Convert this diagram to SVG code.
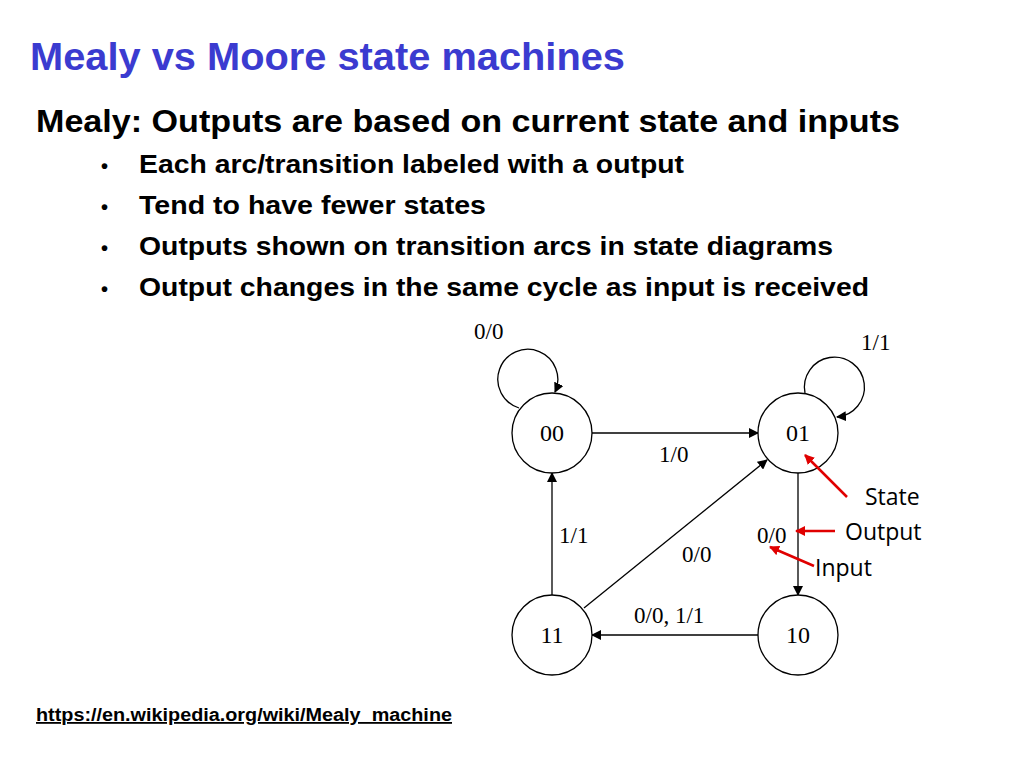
<svg xmlns="http://www.w3.org/2000/svg" width="1024" height="768" viewBox="0 0 1024 768">
<style>
.st{fill:#fff;stroke:#000;stroke-width:1.3}
.sl{font-family:"Liberation Serif",serif;font-size:24px;fill:#000;text-anchor:middle}
.el{font-family:"Liberation Serif",serif;font-size:23px;fill:#000}
.c{fill:none;stroke:#000;stroke-width:1.3}
.r{fill:none;stroke:#e00000;stroke-width:2.5}
.b{font-family:"Liberation Sans",Arial,sans-serif;font-weight:bold;fill:#000}
.an{font-family:"Open Sans","Liberation Sans",sans-serif;font-size:23px;fill:#000}
</style>
<defs>
<marker id="a" markerWidth="10" markerHeight="10" refX="9" refY="5" orient="auto" markerUnits="userSpaceOnUse"><path d="M0,0 L10,5 L0,10 z" fill="#000"/></marker>
<marker id="ra" markerWidth="10" markerHeight="10" refX="9" refY="5" orient="auto" markerUnits="userSpaceOnUse"><path d="M0,0 L10,5 L0,10 z" fill="#e00000"/></marker>
</defs>
<rect width="1024" height="768" fill="#fff"/>
<text x="30" y="70" font-family="Liberation Sans,Arial,sans-serif" font-weight="bold" font-size="38" fill="#3b3bd0" textLength="595" lengthAdjust="spacingAndGlyphs">Mealy vs Moore state machines</text>
<text class="b" x="36" y="132" font-size="32" textLength="864" lengthAdjust="spacingAndGlyphs">Mealy: Outputs are based on current state and inputs</text>
<g class="b" font-size="26">
<text x="101" y="173" font-size="20">•</text><text x="139" y="173" textLength="545" lengthAdjust="spacingAndGlyphs">Each arc/transition labeled with a output</text>
<text x="101" y="214" font-size="20">•</text><text x="139" y="214" textLength="347" lengthAdjust="spacingAndGlyphs">Tend to have fewer states</text>
<text x="101" y="255" font-size="20">•</text><text x="139" y="255" textLength="694" lengthAdjust="spacingAndGlyphs">Outputs shown on transition arcs in state diagrams</text>
<text x="101" y="296" font-size="20">•</text><text x="139" y="296" textLength="730" lengthAdjust="spacingAndGlyphs">Output changes in the same cycle as input is received</text>
</g>
<g id="connectors">
<path class="c" d="M519,408 A30,30 0 1 1 555,392" marker-end="url(#a)"/>
<path class="c" d="M805,393 A30,30 0 1 1 837,417" marker-end="url(#a)"/>
<line class="c" x1="592" y1="433" x2="758" y2="433" marker-end="url(#a)"/>
<line class="c" x1="798" y1="473" x2="798" y2="595" marker-end="url(#a)"/>
<line class="c" x1="758" y1="635" x2="592" y2="635" marker-end="url(#a)"/>
<line class="c" x1="552" y1="595" x2="552" y2="473" marker-end="url(#a)"/>
<line class="c" x1="584" y1="608" x2="767" y2="460" marker-end="url(#a)"/>
<text class="el" x="474" y="339">0/0</text>
<text class="el" x="861" y="350">1/1</text>
<text class="el" x="659" y="462">1/0</text>
<text class="el" x="559" y="543">1/1</text>
<text class="el" x="682" y="562">0/0</text>
<text class="el" x="757" y="543">0/0</text>
<text class="el" x="634" y="623">0/0, 1/1</text>
</g>
<g id="s00"><circle class="st" cx="552" cy="433" r="40"/><text class="sl" x="552" y="441">00</text></g>
<g id="s01"><circle class="st" cx="798" cy="433" r="40"/><text class="sl" x="798" y="441">01</text></g>
<g id="s11"><circle class="st" cx="552" cy="635" r="40"/><text class="sl" x="552" y="643">11</text></g>
<g id="s10"><circle class="st" cx="798" cy="635" r="40"/><text class="sl" x="798" y="643">10</text></g>
<g id="annotations">
<line class="r" x1="847" y1="497" x2="805" y2="455" marker-end="url(#ra)"/>
<line class="r" x1="835" y1="531" x2="796" y2="531" marker-end="url(#ra)"/>
<line class="r" x1="814" y1="566" x2="770" y2="547" marker-end="url(#ra)"/>
<text class="an" x="865" y="505">State</text>
<text class="an" x="845" y="540">Output</text>
<text class="an" x="815" y="576">Input</text>
</g>
<text x="36" y="721" font-family="Liberation Sans,Arial,sans-serif" font-weight="bold" font-size="18" fill="#000" text-decoration="underline" textLength="416" lengthAdjust="spacingAndGlyphs">https://en.wikipedia.org/wiki/Mealy_machine</text>
</svg>
